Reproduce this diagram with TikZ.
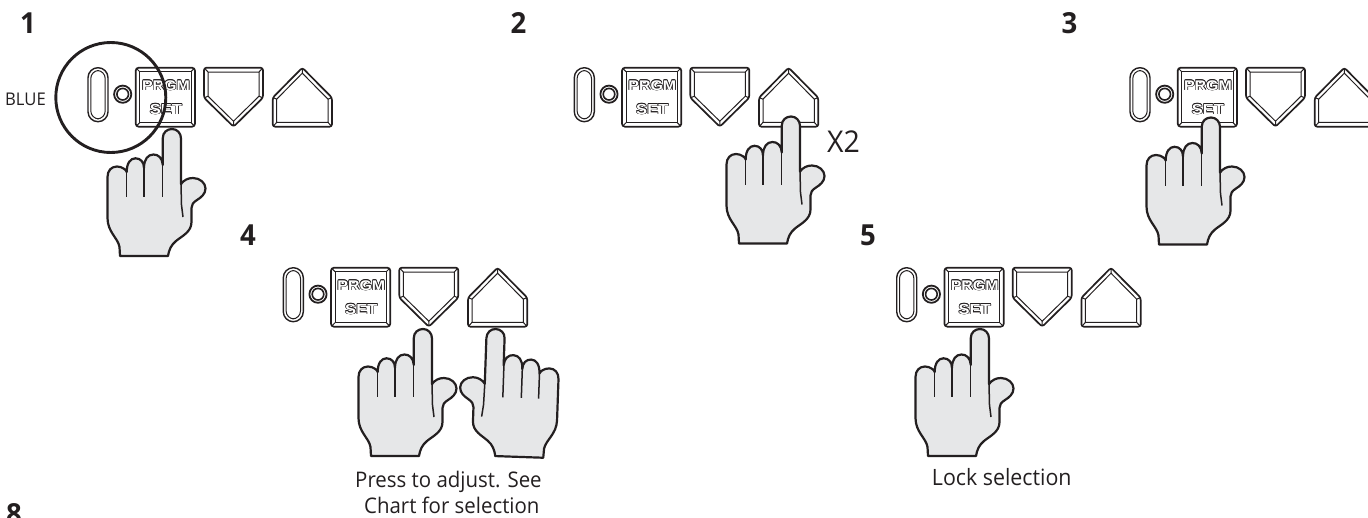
\documentclass[tikz,border=0pt]{standalone}
\usepackage{fontspec}
\setmainfont{Open Sans}[FakeStretch=0.95]
\newfontfamily\btnfont{Liberation Sans}[FakeStretch=1.14,BoldFont={Liberation Sans Bold}]
\newcommand\oc[3]{\rlap{\kern#1\raisebox{#2}{#3}}}
\newcommand\outl[1]{\oc{-.7pt}{0pt}{#1}\oc{.7pt}{0pt}{#1}\oc{0pt}{.7pt}{#1}\oc{0pt}{-.7pt}{#1}\oc{-.5pt}{-.5pt}{#1}\oc{.5pt}{.5pt}{#1}\oc{-.5pt}{.5pt}{#1}\oc{.5pt}{-.5pt}{#1}\textcolor{white}{#1}}
\definecolor{ink}{HTML}{231F20}
\definecolor{skin}{HTML}{E6E7E8}
\tikzset{
  outer/.style={draw=ink,line width=1.7pt,line join=round},
  thin/.style={draw=ink,line width=1pt},
  btn/.style={inner sep=0pt,text=ink,font=\btnfont\bfseries\fontsize{14}{14}\selectfont},
  lbl/.style={inner sep=0pt,anchor=base west,text=ink},
  big/.style={lbl,font=\bfseries\fontsize{29}{29}\selectfont},
  fingerline/.style={draw=ink,line width=1.5pt},
  hand/.pic={
    \path[fill=skin,draw=ink,line width=2.2pt,line join=round]
      (120,256) -- (119.5,247) .. controls (118,238) and (107.5,232) .. (107.5,218)
      -- (107.5,177) .. controls (107.5,170.5) and (111.5,166.5) .. (117,166.5)
      .. controls (122.5,166.5) and (126.7,170.5) .. (126.7,172)
      .. controls (126.7,163) and (130.5,158.3) .. (135.5,158.3)
      .. controls (140.5,158.3) and (144,162) .. (144,168)
      .. controls (144,159) and (148,154.5) .. (153.5,154.5)
      .. controls (158.5,154.5) and (162.3,158) .. (162.8,165)
      -- (162.8,138) .. controls (162.8,132.5) and (167,129) .. (172,129)
      .. controls (177,129) and (181,133) .. (181,138.5)
      -- (181,184) .. controls (184,180) and (188,178) .. (193,178)
      .. controls (200,178) and (205.5,183) .. (205.5,188.5)
      .. controls (205.5,194) and (201,197.5) .. (197,200)
      .. controls (193,202.5) and (191.5,205) .. (191.5,208)
      -- (191.5,222) .. controls (191.5,232) and (182,236) .. (176,241)
      .. controls (171,245) and (169,250) .. (168,256) -- cycle;
    \draw[fingerline] (126.7,172) -- (126.7,197);
    \draw[fingerline] (144,168) -- (144,197);
    \draw[fingerline] (162.5,165) -- (162.5,197);
    \draw[fingerline] (181,184) -- (181.5,205) -- (183,217);
  },
  panel/.pic={
    % slot
    \draw[outer,line width=1.4pt,rounded corners=10pt] (0,0) rectangle (20,54);
    \draw[thin,rounded corners=8pt] (2.8,2.8) rectangle (17.2,51.2);
    % led
    \draw[outer,line width=1.8pt] (34.7,26.5) circle[radius=8.6];
    \draw[outer,line width=1.6pt] (34.7,26.5) circle[radius=5.8];
    % PRGM
    \draw[outer,rounded corners=3pt] (47.7,0) rectangle (107,59);
    \draw[thin] (51.7,4) rectangle (103,55);
    \draw[thin] (48.5,.8) -- (51.7,4) (106.2,.8) -- (103,4) (48.5,58.2) -- (51.7,55) (106.2,58.2) -- (103,55);
    \node[btn] (prgm) at (78,17.6) {\outl{PRGM}};
    \node[btn,font=\btnfont\bfseries\fontsize{14.5}{14.5}\selectfont] (set) at (78,41.5) {\outl{SET}};
    % down
    \draw[outer,rounded corners=2.5pt] (116,0) -- (175,0) -- (175,30) -- (145.5,59) -- (116,30) -- cycle;
    \draw[thin] (120,4.3) -- (171,4.3) -- (171,28.5) -- (145.5,53.5) -- (120,28.5) -- cycle;
    \draw[thin] (116.8,.8) -- (120,4.3) (174.2,.8) -- (171,4.3) (116.6,30) -- (120,28.5) (174.4,30) -- (171,28.5) (145.5,58) -- (145.5,53.5);
    % up
    \draw[outer,rounded corners=2.5pt] (214.3,0) -- (244,30) -- (244,59) -- (184.7,59) -- (184.7,30) -- cycle;
    \draw[thin] (214.3,5.5) -- (240,31.5) -- (240,54.7) -- (188.7,54.7) -- (188.7,31.5) -- cycle;
    \draw[thin] (214.3,1) -- (214.3,5.5) (243.4,30) -- (240,31.5) (185.3,30) -- (188.7,31.5) (185.5,58.2) -- (188.7,54.7) (243.2,58.2) -- (240,54.7);
  }
}
\begin{document}
\begin{tikzpicture}[x=1pt,y=-1pt]
\useasboundingbox (0,0) rectangle (1368,517);
% step 1
\pic (pa) at (88,67.7) {panel};
\pic (ha) at (0,0) {hand};
\node[inner sep=0pt,minimum size=110pt,circle,draw=ink,line width=2.9pt] (ring) at (110.8,97.5) {};
\node[lbl,font=\fontsize{17.5}{17.5}\selectfont] (blue) at (5,105) {BLUE};
\node[big] (n1) at (20,33) {1};
% step 2
\pic (pb) at (574.3,67.7) {panel};
\pic (hb) at (619,-12.5) {hand};
\node[lbl,font=\fontsize{30}{30}\selectfont] (x2) at (827,152.7) {X2};
\node[big] (n2) at (510.5,33) {2};
% step 3
\pic (pc) at (1130,67.7) {panel};
\pic (hc) at (1039,-11.5) {hand};
\node[big] (n3) at (1061.5,33) {3};
% step 4
\pic (pd) at (283.3,267.7) {panel};
\pic (hd) at (251,200) {hand};
\pic[xscale=-1,rotate around={2:(172,129)}] (he) at (667.7,200) {hand};
\node[big] (n4) at (240,245) {4};
\node[lbl,font=\fontsize{21.5}{21.5}\selectfont] (t4a) at (355,487) {Press to adjust. See};
\node[lbl,font=\fontsize{21.5}{21.5}\selectfont] (t4b) at (364,513) {Chart for selection};
% step 5
\pic (pf) at (896.7,267.7) {panel};
\pic (hf) at (808,200) {hand};
\node[big] (n5) at (860,245) {5};
\node[lbl,font=\fontsize{22.5}{22.5}\selectfont] (t5) at (931.7,485.7) {Lock selection};
% cut-off step number
\node[big] (n8) at (6,524.5) {8};
\end{tikzpicture}
\end{document}
